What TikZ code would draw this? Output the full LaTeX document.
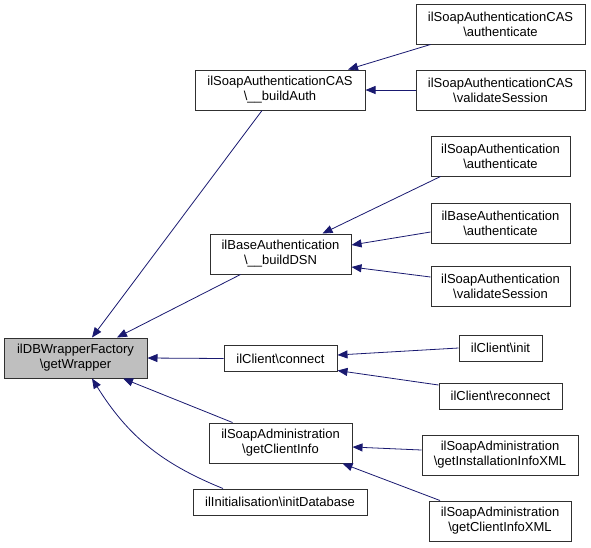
\documentclass[tikz,border=0pt]{standalone}
\usepackage{fontspec}
\setmainfont{Liberation Sans}
\usetikzlibrary{shapes}
\usetikzlibrary{arrows.meta}
\usetikzlibrary{positioning}
\usetikzlibrary{calc}
\definecolor{bleunuit}{HTML}{191970}
\definecolor{cadre}{HTML}{303030}

\begin{document}
\begin{tikzpicture}[x=1pt,y=-1pt]
\tikzstyle{fonction}=[
        draw=cadre,
        rectangle,
        fill=white,
        line width=1pt,
        align=center,
        inner sep=0pt,
        minimum height=40pt,
        font=\fontsize{13}{15}\selectfont
]
\tikzstyle{ligne}=[fonction,minimum height=26pt]
\tikzstyle{courante}=[fonction,fill=black!25]
%styledesflèches
\tikzstyle{appel}=[-{Triangle[length=10pt,width=8pt,fill=bleunuit]},draw=bleunuit,line width=0.8pt]
\useasboundingbox (0,0) rectangle (591,547);
%placementdesnœuds
\node[courante,minimum width=143pt] (wrapper) at (75.5,358) {ilDBWrapperFactory\\\textbackslash getWrapper};
\node[fonction,minimum width=170pt] (buildauth) at (280,90) {ilSoapAuthenticationCAS\\\textbackslash \_\_buildAuth};
\node[fonction,minimum width=169pt] (casauth) at (500.5,24) {ilSoapAuthenticationCAS\\\textbackslash authenticate};
\node[fonction,minimum width=169pt] (casvalid) at (500.5,90) {ilSoapAuthenticationCAS\\\textbackslash validateSession};
\node[fonction,minimum width=141pt] (builddsn) at (280.5,254) {ilBaseAuthentication\\\textbackslash \_\_buildDSN};
\node[fonction,minimum width=139pt] (soapauth) at (500.5,156) {ilSoapAuthentication\\\textbackslash authenticate};
\node[fonction,minimum width=139pt] (baseauth) at (500.5,223) {ilBaseAuthentication\\\textbackslash authenticate};
\node[fonction,minimum width=139pt] (soapvalid) at (500.5,286) {ilSoapAuthentication\\\textbackslash validateSession};
\node[ligne,minimum width=113pt] (connect) at (280.5,358.5) {ilClient\textbackslash connect};
\node[ligne,minimum width=83pt] (init) at (500.5,348) {ilClient\textbackslash init};
\node[ligne,minimum width=123pt] (reconnect) at (500.5,396) {ilClient\textbackslash reconnect};
\node[fonction,minimum width=143pt] (clientinfo) at (280.5,443) {ilSoapAdministration\\\textbackslash getClientInfo};
\node[ligne,minimum width=174pt] (initdb) at (280,502) {ilInitialisation\textbackslash initDatabase};
\node[fonction,minimum width=156pt] (installxml) at (500,455) {ilSoapAdministration\\\textbackslash getInstallationInfoXML};
\node[fonction,minimum width=142pt] (clientxml) at (500,521) {ilSoapAdministration\\\textbackslash getClientInfoXML};
%placementdesflèches
\draw[appel] ([xshift=-18pt]buildauth.south) -- ([xshift=16.5pt]wrapper.north);
\draw[appel] ([xshift=-40pt]builddsn.south) -- ([xshift=41.5pt]wrapper.north);
\draw[appel] (connect.west) -- (wrapper.east);
\draw[appel] ([xshift=-48pt]clientinfo.north) -- ([xshift=47.5pt]wrapper.south);
\draw[appel] ([xshift=-57pt]initdb.north) to[bend left=18] ([xshift=16.5pt]wrapper.south);
\draw[appel] ([xshift=-70pt]casauth.south) -- ([xshift=68pt]buildauth.north);
\draw[appel] (casvalid.west) -- (buildauth.east);
\draw[appel] ([xshift=-60pt]soapauth.south) -- ([xshift=42pt]builddsn.north);
\draw[appel] ([yshift=-9pt]baseauth.west) -- ([yshift=9pt]builddsn.east);
\draw[appel] ([yshift=9pt]soapvalid.west) -- ([yshift=-13pt]builddsn.east);
\draw[appel] (init.west) -- ([yshift=3.5pt]connect.east);
\draw[appel] ([yshift=11pt]reconnect.west) -- ([yshift=-12pt]connect.east);
\draw[appel] ([yshift=5pt]installxml.west) -- ([yshift=-4pt]clientinfo.east);
\draw[appel] ([xshift=-60pt]clientxml.north) -- ([xshift=62pt]clientinfo.south);
\end{tikzpicture}
\end{document}
